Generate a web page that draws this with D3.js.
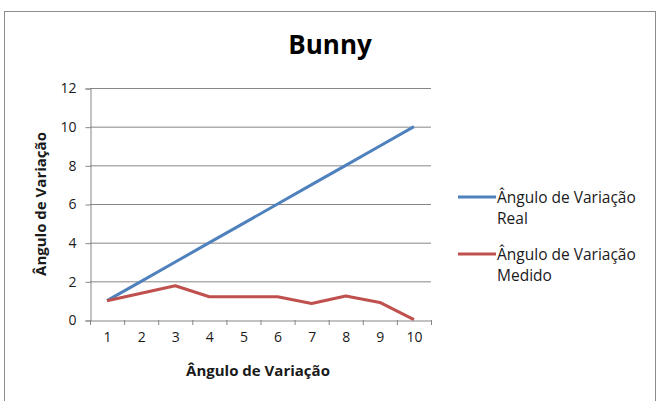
<!DOCTYPE html>
<html><head><meta charset="utf-8">
<script src="https://cdn.jsdelivr.net/npm/d3@7"></script>
<style>body{margin:0;background:#fff}svg{display:block}text{font-family:"Open Sans",sans-serif}</style>
</head><body><svg id="c" width="657" height="401"></svg>
<script>
const categories = [1,2,3,4,5,6,7,8,9,10];
const realValues = [1,2,3,4,5,6,7,8,9,10];
const measuredValues = [1,1.38,1.77,1.2,1.2,1.2,0.85,1.24,0.91,0.02];
const yTicks = [0,2,4,6,8,10,12];
const seriesNames = [["Ângulo de Variação","Real"],["Ângulo de Variação","Medido"]];
const colors = ["#4F81BD","#C0504D"];

const svg = d3.select("#c");
svg.append("rect").attr("x",4.5).attr("y",11.5).attr("width",651).attr("height",400)
  .attr("fill","#fff").attr("stroke","#8c8c8c");

const L=90,R=431,T=88,B=320;
const x = d3.scaleBand().domain(categories).range([L,R]);
const y = d3.scaleLinear().domain([0,12]).range([B,T]);

// gridlines
svg.append("g").selectAll("line").data(yTicks.filter(d=>d>0)).join("line")
  .attr("x1",L).attr("x2",R).attr("y1",d=>y(d)+0.5).attr("y2",d=>y(d)+0.5)
  .attr("stroke","#868686").attr("stroke-width",1);

// y axis
const yAxis = svg.append("g").attr("transform",`translate(${L+0.5},0.5)`)
  .call(d3.axisLeft(y).tickValues(yTicks).tickSize(5).tickPadding(9));
yAxis.select(".domain").attr("stroke","#868686");
yAxis.selectAll(".tick line").attr("stroke","#868686");
yAxis.selectAll("text").attr("font-size",14).attr("fill","#1a1a1a");

// x axis
const xAxis = svg.append("g").attr("transform",`translate(0.5,${B+0.5})`)
  .call(d3.axisBottom(x).tickSize(0).tickPadding(12));
xAxis.select(".domain").attr("stroke","#868686");
xAxis.selectAll("text").attr("font-size",14).attr("fill","#1a1a1a");
svg.append("g").selectAll("line").data(categories.concat([null])).join("line")
  .attr("x1",(d,i)=>(i<categories.length?x(d):R)+0.5).attr("x2",(d,i)=>(i<categories.length?x(d):R)+0.5)
  .attr("y1",B).attr("y2",B+5).attr("stroke","#868686");

const cx = d=>x(d)+x.bandwidth()/2;
const line = d3.line().x((d,i)=>cx(categories[i])).y(d=>y(d));
[realValues,measuredValues].forEach((vals,k)=>{
  svg.append("path").datum(vals).attr("d",line).attr("fill","none")
    .attr("stroke",colors[k]).attr("stroke-width",3).attr("stroke-linejoin","round");
});

// titles
svg.append("text").attr("x",330).attr("y",54).attr("text-anchor","middle")
  .attr("font-size",26).attr("font-weight","bold").attr("fill","#000").text("Bunny");
svg.append("text").attr("x",258).attr("y",376).attr("text-anchor","middle")
  .attr("font-size",15).attr("font-weight","bold").attr("fill","#1a1a1a").text("Ângulo de Variação");
svg.append("text").attr("transform",`translate(46,${(T+B)/2}) rotate(-90)`).attr("text-anchor","middle")
  .attr("font-size",15).attr("font-weight","bold").attr("fill","#1a1a1a").text("Ângulo de Variação");

// legend
const lg = svg.append("g");
[197,254].forEach((ly,k)=>{
  lg.append("line").attr("x1",458).attr("x2",496).attr("y1",ly).attr("y2",ly)
    .attr("stroke",colors[k]).attr("stroke-width",3);
  seriesNames[k].forEach((t,j)=>{
    lg.append("text").attr("x",497).attr("y",ly+6+j*21).attr("font-size",15.5).attr("fill","#1a1a1a").text(t);
  });
});
</script></body></html>
